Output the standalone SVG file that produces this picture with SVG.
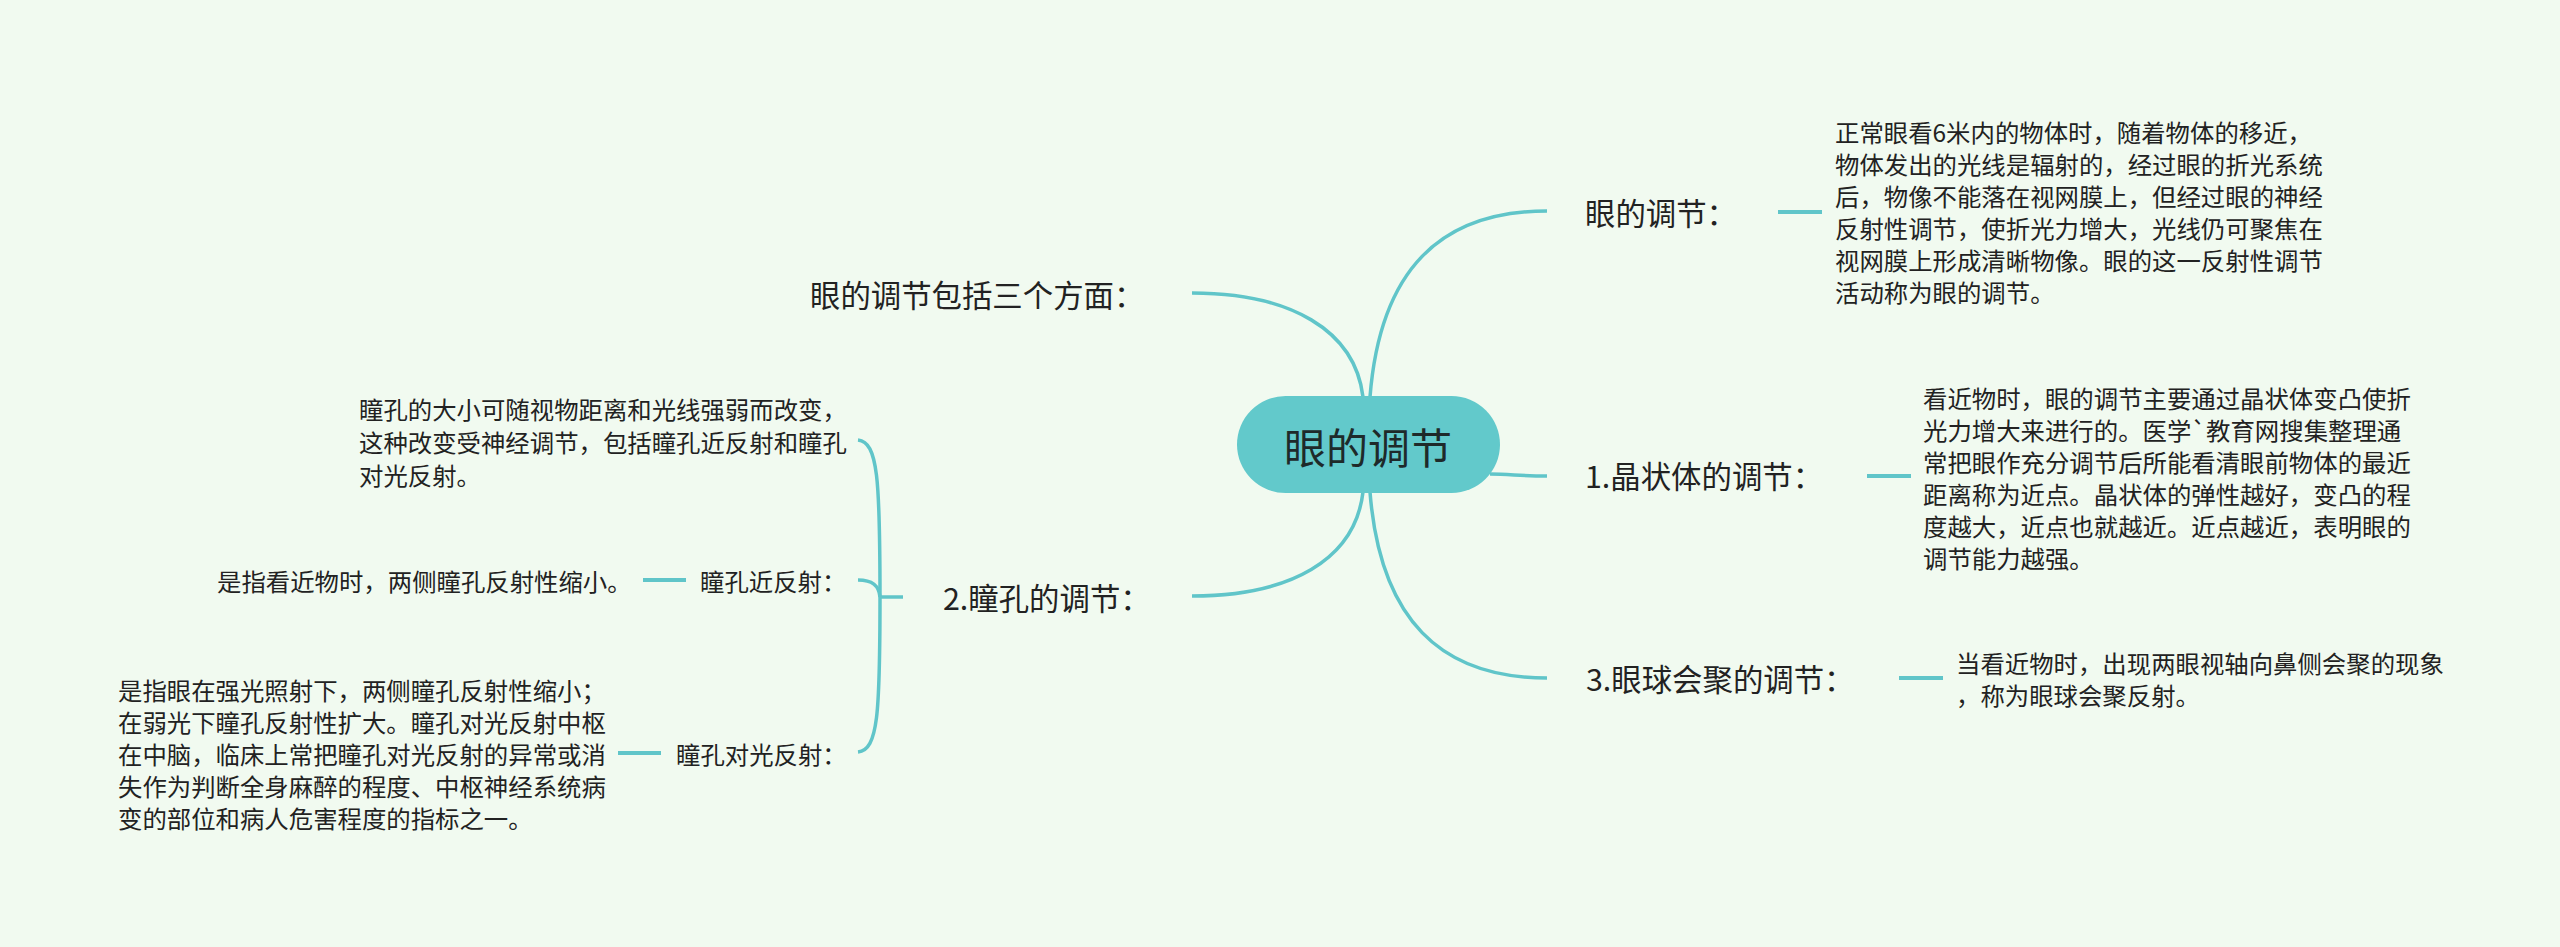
<svg xmlns="http://www.w3.org/2000/svg" width="2560" height="947" viewBox="0 0 2560 947">
<style>
text{font-family:"Noto Sans CJK SC","Noto Sans",sans-serif;fill:#222;dominant-baseline:central}
.lab{font-size:30.4px}
.sub{font-size:24.4px}
.det{font-size:24.4px}
.root{font-size:42px;fill:#1e2a2a}
.ln{fill:none;stroke:#60c5c9;stroke-width:3.5;stroke-linecap:butt}
.dash{fill:none;stroke:#60c5c9;stroke-width:4}
</style>
<rect x="0" y="0" width="2560" height="947" fill="#f1faf0"/>
<g id="connectors">
<path class="ln" d="M1370,397 C1380,270 1440,211 1547,211"/>
<path class="ln" d="M1490,474 C1510,474 1520,476 1547,476"/>
<path class="ln" d="M1370,492 C1380,619 1440,678 1547,678"/>
<path class="ln" d="M1363,397 C1355,330 1290,293 1192,293"/>
<path class="ln" d="M1363,492 C1355,560 1290,596 1192,596"/>
<path class="ln" d="M903,597 H880"/>
<path class="ln" d="M880,597 C880,480 878,442 858,440"/>
<path class="ln" d="M880,597 C880,714 878,750 858,752"/>
<path class="ln" d="M880,597 C879,585 872,580 858,580"/>
<path class="dash" d="M1778,212 H1822"/>
<path class="dash" d="M1867,476 H1911"/>
<path class="dash" d="M1899,678 H1943"/>
<path class="dash" d="M643,580 H686"/>
<path class="dash" d="M618,753 H661"/>
</g>
<g id="root">
<rect x="1237" y="396" width="263" height="97" rx="48.5" fill="#62c9cb"/>
<text class="root" x="1368" y="445" text-anchor="middle">眼的调节</text>
</g>
<g id="n-eye">
<text class="lab" x="1585" y="212">眼的调节：</text>
</g>
<g id="n-eye-detail">
<text class="det" x="1835" y="131">正常眼看6米内的物体时，随着物体的移近，</text>
<text class="det" x="1835" y="163">物体发出的光线是辐射的，经过眼的折光系统</text>
<text class="det" x="1835" y="195">后，物像不能落在视网膜上，但经过眼的神经</text>
<text class="det" x="1835" y="227">反射性调节，使折光力增大，光线仍可聚焦在</text>
<text class="det" x="1835" y="259">视网膜上形成清晰物像。眼的这一反射性调节</text>
<text class="det" x="1835" y="291">活动称为眼的调节。</text>
</g>
<g id="n-lens">
<text class="lab" x="1585" y="475">1.晶状体的调节：</text>
</g>
<g id="n-lens-detail">
<text class="det" x="1923" y="397">看近物时，眼的调节主要通过晶状体变凸使折</text>
<text class="det" x="1923" y="429">光力增大来进行的。医学`教育网搜集整理通</text>
<text class="det" x="1923" y="461">常把眼作充分调节后所能看清眼前物体的最近</text>
<text class="det" x="1923" y="493">距离称为近点。晶状体的弹性越好，变凸的程</text>
<text class="det" x="1923" y="525">度越大，近点也就越近。近点越近，表明眼的</text>
<text class="det" x="1923" y="557">调节能力越强。</text>
</g>
<g id="n-conv">
<text class="lab" x="1586" y="678">3.眼球会聚的调节：</text>
</g>
<g id="n-conv-detail">
<text class="det" x="1956" y="662">当看近物时，出现两眼视轴向鼻侧会聚的现象</text>
<text class="det" x="1956" y="694">，称为眼球会聚反射。</text>
</g>
<g id="n-three">
<text class="lab" x="810" y="294">眼的调节包括三个方面：</text>
</g>
<g id="n-pupil">
<text class="lab" x="943" y="597">2.瞳孔的调节：</text>
</g>
<g id="n-pupil-detail">
<text class="det" x="359" y="408">瞳孔的大小可随视物距离和光线强弱而改变，</text>
<text class="det" x="359" y="441">这种改变受神经调节，包括瞳孔近反射和瞳孔</text>
<text class="det" x="359" y="474">对光反射。</text>
</g>
<g id="n-near">
<text class="sub" x="700" y="580">瞳孔近反射：</text>
</g>
<g id="n-near-detail">
<text class="det" x="217" y="580">是指看近物时，两侧瞳孔反射性缩小。</text>
</g>
<g id="n-light">
<text class="sub" x="676" y="753">瞳孔对光反射：</text>
</g>
<g id="n-light-detail">
<text class="det" x="118" y="689">是指眼在强光照射下，两侧瞳孔反射性缩小；</text>
<text class="det" x="118" y="721">在弱光下瞳孔反射性扩大。瞳孔对光反射中枢</text>
<text class="det" x="118" y="753">在中脑，临床上常把瞳孔对光反射的异常或消</text>
<text class="det" x="118" y="785">失作为判断全身麻醉的程度、中枢神经系统病</text>
<text class="det" x="118" y="817">变的部位和病人危害程度的指标之一。</text>
</g>
</svg>
